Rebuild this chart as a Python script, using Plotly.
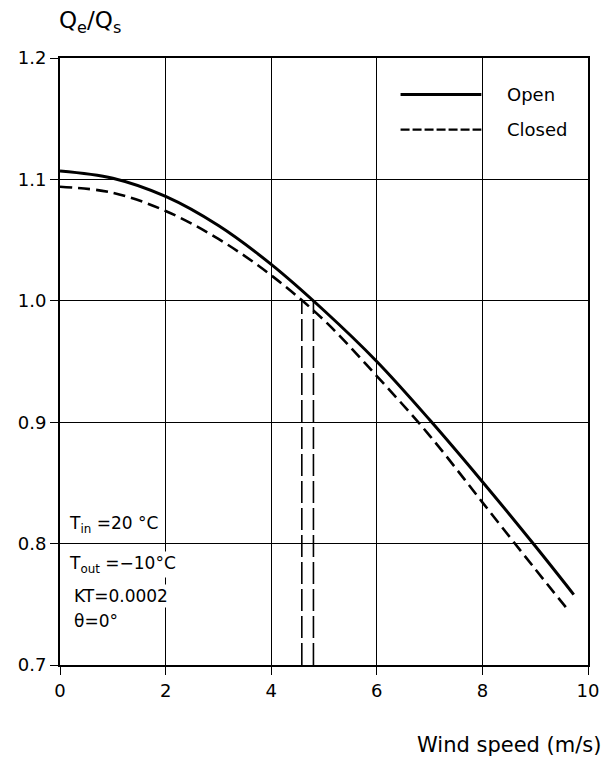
import plotly.graph_objects as go

# Data
open_x = [0.0, 1.0, 2.0, 3.0, 4.0, 5.0, 6.0, 7.0, 8.0, 9.0, 9.73]
open_y = [1.107, 1.101, 1.086, 1.062, 1.030, 0.992, 0.950, 0.902, 0.851, 0.798, 0.758]
closed_x = [0.0, 1.0, 2.0, 3.0, 4.0, 5.0, 6.0, 7.0, 8.0, 9.0, 9.61]
closed_y = [1.094, 1.089, 1.074, 1.051, 1.021, 0.984, 0.938, 0.889, 0.834, 0.779, 0.746]
cross_open = 4.8
cross_closed = 4.58
x_ticks = [0, 2, 4, 6, 8, 10]
y_ticks = [0.7, 0.8, 0.9, 1.0, 1.1, 1.2]
y_tick_text = ["0.7", "0.8", "0.9", "1.0", "1.1", "1.2"]
notes = ["T<sub>in</sub> =20 °C", "T<sub>out</sub> =−10°C", "KT=0.0002", "θ=0°"]
note_y = [0.816, 0.783, 0.757, 0.736]
note_x = [0.14, 0.14, 0.22, 0.22]

FONT = "DejaVu Sans, Liberation Sans, sans-serif"

fig = go.Figure()
fig.add_trace(go.Scatter(x=open_x, y=open_y, mode="lines",
                         line=dict(color="black", width=3, shape="spline", smoothing=1.0),
                         showlegend=False, name="Open"))
fig.add_trace(go.Scatter(x=closed_x, y=closed_y, mode="lines",
                         line=dict(color="black", width=2.6, shape="spline", smoothing=1.0,
                                   dash="12px,6px"),
                         showlegend=False, name="Closed"))
fig.add_trace(go.Scatter(x=[cross_open, cross_open], y=[0.7, 1.0], mode="lines",
                         line=dict(color="black", width=1.6, dash="22px,5px"),
                         showlegend=False))
fig.add_trace(go.Scatter(x=[cross_closed, cross_closed], y=[0.7, 1.0], mode="lines",
                         line=dict(color="black", width=1.6, dash="22px,5px"),
                         showlegend=False))

# legend drawn inside plot
fig.add_shape(type="line", xref="x", yref="y", x0=6.45, x1=7.98, y0=1.170, y1=1.170,
              line=dict(color="black", width=3))
fig.add_shape(type="line", xref="x", yref="y", x0=6.45, x1=7.98, y0=1.141, y1=1.141,
              line=dict(color="black", width=2.2, dash="9px,3px"))
fig.add_annotation(x=8.42, y=1.170, xref="x", yref="y", text="Open", showarrow=False,
                   xanchor="left", yanchor="middle", font=dict(size=18, color="black", family=FONT))
fig.add_annotation(x=8.42, y=1.141, xref="x", yref="y", text="Closed", showarrow=False,
                   xanchor="left", yanchor="middle", font=dict(size=18, color="black", family=FONT))

for t, yy, xx in zip(notes, note_y, note_x):
    fig.add_annotation(x=xx, y=yy, xref="x", yref="y", text=t, showarrow=False,
                       xanchor="left", yanchor="middle", bgcolor="white", borderpad=1,
                       font=dict(size=17, color="black", family=FONT))

fig.add_annotation(x=-0.005, y=1.0, xref="paper", yref="paper", yshift=36,
                   text="Q<sub>e</sub>/Q<sub>s</sub>", showarrow=False,
                   xanchor="left", yanchor="middle", font=dict(size=23, color="black", family=FONT))
fig.add_annotation(x=1.028, y=0, xref="paper", yref="paper", yshift=-80,
                   text="Wind speed (m/s)", showarrow=False,
                   xanchor="right", yanchor="middle", font=dict(size=21, color="black", family=FONT))

fig.update_layout(
    width=611, height=759,
    margin=dict(l=60, r=15, t=58, b=94),
    plot_bgcolor="white", paper_bgcolor="white",
    font=dict(family=FONT, size=17, color="black"),
)
fig.update_xaxes(range=[0, 10], tickvals=x_ticks, showgrid=True, gridcolor="black", gridwidth=1.4,
                 showline=True, linecolor="black", linewidth=2, mirror=True,
                 ticks="outside", ticklen=8, tickwidth=1.4, tickcolor="black", zeroline=False,
                 tickfont=dict(size=18))
fig.update_yaxes(range=[0.7, 1.2], tickvals=y_ticks, ticktext=y_tick_text, showgrid=True,
                 gridcolor="black", gridwidth=1.4,
                 showline=True, linecolor="black", linewidth=2, mirror=True,
                 ticks="outside", ticklen=8, tickwidth=1.4, tickcolor="black", zeroline=False,
                 tickfont=dict(size=18))

fig.write_html("out.html")
